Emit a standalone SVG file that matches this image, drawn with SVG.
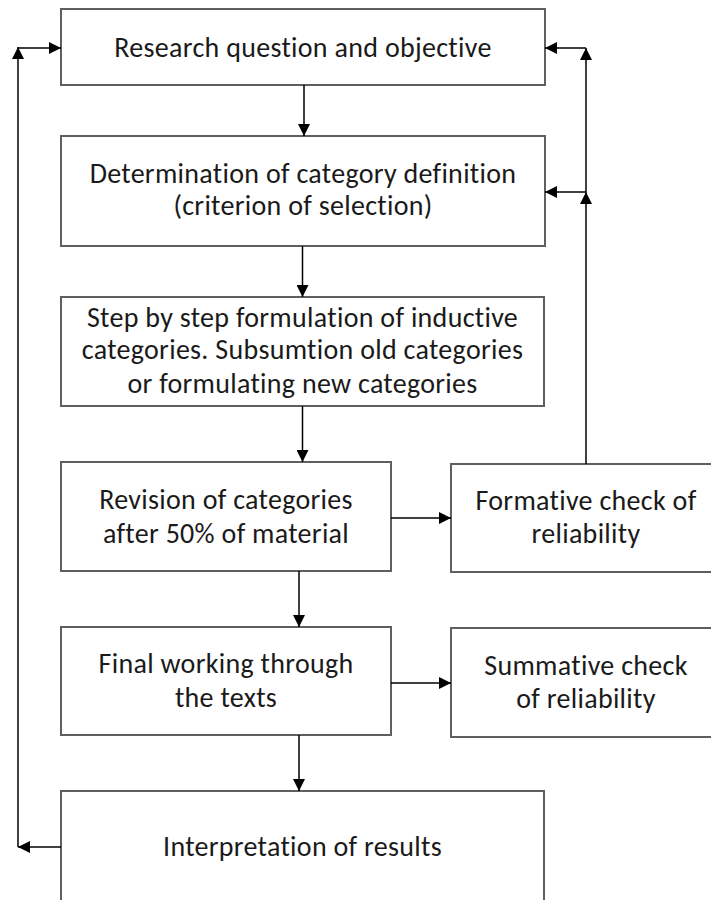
<svg xmlns="http://www.w3.org/2000/svg" width="711" height="900" viewBox="0 0 711 900">
  <style>
    .box { fill: #ffffff; stroke: #5f5f5f; stroke-width: 2; }
    .lbl { font-family: Carlito, Lato, "Liberation Sans", sans-serif; font-size: 28px; letter-spacing: 0.3px; fill: #1a1a1a; text-anchor: middle; }
    .wire { fill: none; stroke: #000000; stroke-width: 1.5; }
  </style>
  <defs>
    <marker id="arrow" viewBox="0 0 12 12" refX="12" refY="6" markerWidth="12" markerHeight="12" markerUnits="userSpaceOnUse" orient="auto">
      <path d="M0,0 L12,6 L0,12 Z" fill="#000000"/>
    </marker>
  </defs>
  <rect width="711" height="900" fill="#ffffff"/>

  <g id="research-question">
    <rect class="box" x="61" y="9" width="484" height="76"/>
    <text class="lbl" x="303" y="57">Research question and objective</text>
  </g>

  <g id="category-definition">
    <rect class="box" x="61" y="136" width="484" height="110"/>
    <text class="lbl" x="303" y="183">Determination of category definition</text>
    <text class="lbl" x="303" y="215">(criterion of selection)</text>
  </g>

  <g id="inductive-categories">
    <rect class="box" x="61" y="297" width="483" height="109"/>
    <text class="lbl" x="302.5" y="327">Step by step formulation of inductive</text>
    <text class="lbl" x="302.5" y="359">categories. Subsumtion old categories</text>
    <text class="lbl" x="302.5" y="393">or formulating new categories</text>
  </g>

  <g id="revision">
    <rect class="box" x="61" y="462" width="330" height="109"/>
    <text class="lbl" x="226" y="509">Revision of categories</text>
    <text class="lbl" x="226" y="543">after 50% of material</text>
  </g>

  <g id="formative-check">
    <rect class="box" x="451" y="464" width="270" height="108"/>
    <text class="lbl" x="586" y="510">Formative check of</text>
    <text class="lbl" x="586" y="543">reliability</text>
  </g>

  <g id="final-working">
    <rect class="box" x="61" y="627" width="330" height="108"/>
    <text class="lbl" x="226" y="673">Final working through</text>
    <text class="lbl" x="226" y="707">the texts</text>
  </g>

  <g id="summative-check">
    <rect class="box" x="451" y="628" width="270" height="109"/>
    <text class="lbl" x="586" y="675">Summative check</text>
    <text class="lbl" x="586" y="708">of reliability</text>
  </g>

  <g id="interpretation">
    <rect class="box" x="61" y="791" width="483" height="130"/>
    <text class="lbl" x="302.5" y="856">Interpretation of results</text>
  </g>

  <g id="connectors">
    <!-- main downward flow -->
    <line class="wire" x1="304" y1="85" x2="304" y2="136" marker-end="url(#arrow)"/>
    <line class="wire" x1="302.5" y1="246" x2="302.5" y2="297" marker-end="url(#arrow)"/>
    <line class="wire" x1="302.5" y1="406" x2="302.5" y2="462" marker-end="url(#arrow)"/>
    <line class="wire" x1="299" y1="571" x2="299" y2="627" marker-end="url(#arrow)"/>
    <line class="wire" x1="299" y1="735" x2="299" y2="791" marker-end="url(#arrow)"/>
    <!-- side checks -->
    <line class="wire" x1="391" y1="518" x2="451" y2="518" marker-end="url(#arrow)"/>
    <line class="wire" x1="391" y1="683" x2="451" y2="683" marker-end="url(#arrow)"/>
    <!-- feedback from formative check -->
    <line class="wire" x1="586" y1="464" x2="586" y2="192" marker-end="url(#arrow)"/>
    <line class="wire" x1="586" y1="192" x2="545" y2="192" marker-end="url(#arrow)"/>
    <line class="wire" x1="586" y1="192" x2="586" y2="48" marker-end="url(#arrow)"/>
    <line class="wire" x1="586" y1="48" x2="545" y2="48" marker-end="url(#arrow)"/>
    <!-- loop back from interpretation -->
    <line class="wire" x1="61" y1="847" x2="18" y2="847" marker-end="url(#arrow)"/>
    <line class="wire" x1="18" y1="847" x2="18" y2="47" marker-end="url(#arrow)"/>
    <line class="wire" x1="18" y1="48" x2="61" y2="48" marker-end="url(#arrow)"/>
  </g>
</svg>
